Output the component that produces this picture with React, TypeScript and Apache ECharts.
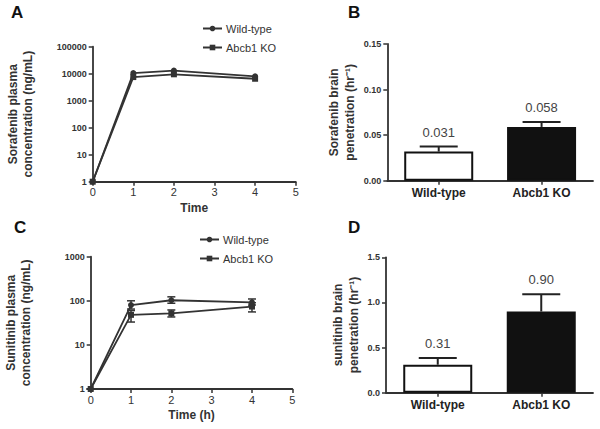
import React, { useEffect, useRef } from "react";
import * as echarts from "echarts";

// Panel A: sorafenib plasma concentration (ng/mL)
const timesA = [0, 1, 2, 4];
const soraWT = [1, 10500, 13000, 8000];
const soraKO = [1, 7500, 9500, 6500];

// Panel C: sunitinib plasma concentration (ng/mL), mean with low/high error
const timesC = [0, 1, 2, 4];
const suniWT = [1, 80, 103, 92];
const suniWTLow = [1, 65, 88, 80];
const suniWTHigh = [1, 100, 123, 110];
const suniKO = [1, 48, 52, 74];
const suniKOLow = [1, 33, 43, 56];
const suniKOHigh = [1, 60, 62, 90];

// Panels B and D: brain penetration (hr^-1)
const groups = ["Wild-type", "Abcb1 KO"];
const soraBrain = [0.032, 0.059];
const soraBrainSem = [0.0055, 0.0055];
const soraBrainLabels = ["0.031", "0.058"];
const suniBrain = [0.31, 0.9];
const suniBrainSem = [0.075, 0.19];
const suniBrainLabels = ["0.31", "0.90"];

const xTicks = [0, 1, 2, 3, 4, 5];

const FONT = "'Liberation Sans', Arial, sans-serif";
const AX = "#333";

function lineErrRender(params: any, api: any) {
  const x = api.value(0);
  const lo = api.value(1);
  const hi = api.value(2);
  const p1 = api.coord([x, lo]);
  const p2 = api.coord([x, hi]);
  const w = 4;
  const st = { stroke: "#333", lineWidth: 1.5 };
  return {
    type: "group",
    children: [
      { type: "line", shape: { x1: p1[0], y1: p1[1], x2: p2[0], y2: p2[1] }, style: st },
      { type: "line", shape: { x1: p1[0] - w, y1: p1[1], x2: p1[0] + w, y2: p1[1] }, style: st },
      { type: "line", shape: { x1: p2[0] - w, y1: p2[1], x2: p2[0] + w, y2: p2[1] }, style: st },
    ],
  };
}

function makeBarErrRender(labels: string[]) {
  return function (params: any, api: any) {
    const idx = api.value(0);
    const m = api.value(1);
    const e = api.value(2);
    const base = api.coord([idx, m]);
    const top = api.coord([idx, m + e]);
    const w = 19;
    const st = { stroke: "#222", lineWidth: 2 };
    return {
      type: "group",
      children: [
        { type: "line", shape: { x1: base[0], y1: base[1], x2: top[0], y2: top[1] }, style: st },
        { type: "line", shape: { x1: top[0] - w, y1: top[1], x2: top[0] + w, y2: top[1] }, style: st },
        {
          type: "text",
          style: {
            text: labels[params.dataIndex],
            x: top[0],
            y: top[1] - 8,
            align: "center",
            verticalAlign: "bottom",
            fontSize: 13,
            fontFamily: FONT,
            fill: "#444",
          },
        },
      ],
    };
  };
}

const axisLine = { show: true, lineStyle: { color: AX, width: 1.8 } };
const axisTick = { show: true, inside: false, length: 4, lineStyle: { color: AX, width: 1.5 } };

function valueX(gridIndex: number, name: string) {
  return {
    type: "value",
    gridIndex,
    min: 0,
    max: 5,
    interval: 1,
    name,
    nameLocation: "middle",
    nameGap: 20,
    nameTextStyle: { fontSize: 12, fontWeight: "bold", color: "#333", fontFamily: FONT },
    axisLine,
    axisTick,
    splitLine: { show: false },
    axisLabel: {
      fontSize: 11,
      color: "#333",
      margin: 5,
      fontFamily: FONT,
      formatter: (v: number) => (xTicks.indexOf(v) >= 0 ? String(v) : ""),
    },
  };
}

function logY(gridIndex: number, max: number, name: string, gap: number) {
  return {
    type: "log",
    logBase: 10,
    gridIndex,
    min: 1,
    max,
    name,
    nameLocation: "middle",
    nameRotate: 90,
    nameGap: gap,
    nameTextStyle: { fontSize: 12, fontWeight: "bold", color: "#333", lineHeight: 15, fontFamily: FONT },
    axisLine,
    axisTick,
    minorTick: { show: false },
    splitLine: { show: false },
    axisLabel: {
      fontSize: 9,
      fontWeight: "bold",
      color: "#333",
      margin: 6,
      fontFamily: FONT,
      formatter: (v: number) => String(Math.round(v)),
    },
  };
}

function catX(gridIndex: number) {
  return {
    type: "category",
    gridIndex,
    data: groups,
    axisLine,
    axisTick: { ...axisTick, alignWithLabel: true },
    axisLabel: { fontSize: 12, fontWeight: "bold", color: "#222", margin: 6, fontFamily: FONT },
  };
}

function barY(gridIndex: number, max: number, interval: number, name: string, gap: number, dec: number) {
  return {
    type: "value",
    gridIndex,
    min: 0,
    max,
    interval,
    name,
    nameLocation: "middle",
    nameRotate: 90,
    nameGap: gap,
    nameTextStyle: { fontSize: 12, fontWeight: "bold", color: "#333", lineHeight: 16, fontFamily: FONT },
    axisLine,
    axisTick,
    splitLine: { show: false },
    axisLabel: {
      fontSize: 9,
      fontWeight: "bold",
      color: "#333",
      margin: 6,
      fontFamily: FONT,
      formatter: (v: number) => v.toFixed(dec),
    },
  };
}

export default function App() {
  const ref = useRef<HTMLDivElement>(null);
  useEffect(() => {
    if (!ref.current) return;
    const chart = echarts.init(ref.current, undefined, { renderer: "svg" });
    const lineStyle = { color: "#333", width: 1.8 };
    const option: any = {
      animation: false,
      backgroundColor: "#fff",
      textStyle: { fontFamily: FONT },
      grid: [
        { left: 92.7, top: 46.7, width: 203, height: 135, containLabel: false, outerBoundsMode: "none" },
        { left: 387.3, top: 44, width: 205.7, height: 136.7, containLabel: false, outerBoundsMode: "none" },
        { left: 90.7, top: 256.7, width: 201.6, height: 132.3, containLabel: false, outerBoundsMode: "none" },
        { left: 386, top: 257.3, width: 207, height: 135.4, containLabel: false, outerBoundsMode: "none" },
      ],
      legend: [
        {
          left: 197,
          top: 18,
          orient: "vertical",
          itemWidth: 19,
          itemHeight: 7,
          itemGap: 8,
          data: ["Wild-type", "Abcb1 KO"],
          textStyle: { fontSize: 11, color: "#333", fontFamily: FONT, padding: [0, 0, 0, -1] },
        },
        {
          left: 194,
          top: 229,
          orient: "vertical",
          itemWidth: 19,
          itemHeight: 7,
          itemGap: 8,
          data: ["Wild-type", "Abcb1 KO"],
          textStyle: { fontSize: 11, color: "#333", fontFamily: FONT, padding: [0, 0, 0, -1] },
        },
      ],
      graphic: [
        { type: "text", left: 11, top: 4, style: { text: "A", fontSize: 17, fontWeight: "bold", fill: "#111", fontFamily: FONT } },
        { type: "text", left: 348, top: 4, style: { text: "B", fontSize: 17, fontWeight: "bold", fill: "#111", fontFamily: FONT } },
        { type: "text", left: 14, top: 219, style: { text: "C", fontSize: 17, fontWeight: "bold", fill: "#111", fontFamily: FONT } },
        { type: "text", left: 348, top: 219, style: { text: "D", fontSize: 17, fontWeight: "bold", fill: "#111", fontFamily: FONT } },
      ],
      xAxis: [valueX(0, "Time"), catX(1), valueX(2, "Time (h)"), catX(3)],
      yAxis: [
        logY(0, 100000, "Sorafenib plasma\nconcentration (ng/mL)", 57),
        barY(1, 0.15, 0.05, "Sorafenib brain\npenetration (hr⁻¹)", 29, 2),
        logY(2, 1000, "Sunitinib plasma\nconcentration (ng/mL)", 57),
        barY(3, 1.5, 0.5, "sunitinib brain\npenetration (hr⁻¹)", 24, 1),
      ],
      series: [
        {
          type: "line",
          name: "Wild-type",
          xAxisIndex: 0,
          yAxisIndex: 0,
          data: timesA.map((t, i) => [t, soraWT[i]]),
          symbol: "circle",
          symbolSize: 6,
          itemStyle: { color: "#333" },
          lineStyle,
        },
        {
          type: "line",
          name: "Abcb1 KO",
          xAxisIndex: 0,
          yAxisIndex: 0,
          data: timesA.map((t, i) => [t, soraKO[i]]),
          symbol: "rect",
          symbolSize: 6,
          itemStyle: { color: "#333" },
          lineStyle,
        },
        {
          type: "custom",
          xAxisIndex: 2,
          yAxisIndex: 2,
          renderItem: lineErrRender,
          data: timesC.map((t, i) => [t, suniWTLow[i], suniWTHigh[i]]),
          silent: true,
        },
        {
          type: "custom",
          xAxisIndex: 2,
          yAxisIndex: 2,
          renderItem: lineErrRender,
          data: timesC.map((t, i) => [t, suniKOLow[i], suniKOHigh[i]]),
          silent: true,
        },
        {
          type: "line",
          name: "Wild-type",
          xAxisIndex: 2,
          yAxisIndex: 2,
          data: timesC.map((t, i) => [t, suniWT[i]]),
          symbol: "circle",
          symbolSize: 6,
          itemStyle: { color: "#333" },
          lineStyle,
        },
        {
          type: "line",
          name: "Abcb1 KO",
          xAxisIndex: 2,
          yAxisIndex: 2,
          data: timesC.map((t, i) => [t, suniKO[i]]),
          symbol: "rect",
          symbolSize: 6,
          itemStyle: { color: "#333" },
          lineStyle,
        },
        {
          type: "custom",
          xAxisIndex: 1,
          yAxisIndex: 1,
          renderItem: makeBarErrRender(soraBrainLabels),
          data: groups.map((g, i) => [i, soraBrain[i], soraBrainSem[i]]),
          silent: true,
          z: 1,
        },
        {
          type: "bar",
          xAxisIndex: 1,
          yAxisIndex: 1,
          barWidth: 69,
          z: 3,
          data: soraBrain.map((v, i) => ({
            value: v,
            itemStyle: i === 0 ? { color: "#fff", borderColor: "#111", borderWidth: 2 } : { color: "#111", borderColor: "#111", borderWidth: 2 },
          })),
        },
        {
          type: "custom",
          xAxisIndex: 3,
          yAxisIndex: 3,
          renderItem: makeBarErrRender(suniBrainLabels),
          data: groups.map((g, i) => [i, suniBrain[i], suniBrainSem[i]]),
          silent: true,
          z: 1,
        },
        {
          type: "bar",
          xAxisIndex: 3,
          yAxisIndex: 3,
          barWidth: 69,
          z: 3,
          data: suniBrain.map((v, i) => ({
            value: v,
            itemStyle: i === 0 ? { color: "#fff", borderColor: "#111", borderWidth: 2 } : { color: "#111", borderColor: "#111", borderWidth: 2 },
          })),
        },
      ],
    };
    chart.setOption(option);
    return () => chart.dispose();
  }, []);
  return (
    <div
      ref={ref}
      style={{ position: "absolute", left: 0, top: 0, width: 600, height: 429, background: "#fff" }}
    />
  );
}
